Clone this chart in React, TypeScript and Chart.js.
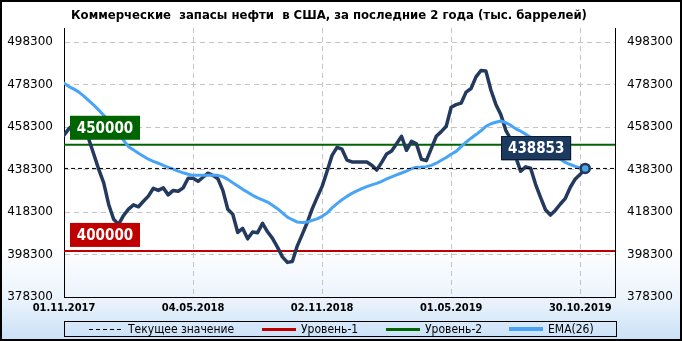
import React, { useEffect, useRef } from 'react';
import { Chart, registerables } from 'chart.js';

Chart.register(...registerables);

const TITLE = 'Коммерческие  запасы нефти  в США, за последние 2 года (тыс. баррелей)';
const xTickIndex = [0, 26, 52, 78, 104];
const xTickLabels = ['01.11.2017', '04.05.2018', '02.11.2018', '01.05.2019', '30.10.2019'];
const yTicks = [378300, 398300, 418300, 438300, 458300, 478300, 498300];

const stocks = [
  454500, 457600, 459700, 460100, 457300, 452600, 445500, 438400, 432100, 421900,
  414900, 412500, 416700, 419700, 421700, 420800, 423400, 425800, 429500, 428500,
  429700, 426400, 428500, 428100, 429700, 434200, 434200, 432800, 434700, 436600,
  435600, 434000, 428500, 419600, 417300, 408700, 410600, 405700, 408900, 408600,
  413000, 409000, 405900, 401800, 397200, 394600, 395000, 402400, 407800, 413400,
  419800, 425200, 430400, 437500, 445000, 448800, 447900, 442800, 441900, 441900,
  441900, 441900, 440400, 438100, 441700, 445700, 447100, 450500, 454000, 447400,
  451600, 450400, 443200, 442500, 448300, 454000, 456200, 458700, 467700, 468900,
  469600, 474800, 476500, 482000, 485000, 484700, 475800, 469000, 464200, 456800,
  452600, 444300, 437500, 439600, 439000, 431400, 425200, 419400, 416900, 419200,
  422100, 424800, 430000, 433900, 436100, 438853,
];

const ema26 = [
  479000, 477400, 476200, 474800, 472900, 470800, 468700, 466300, 463900, 461200,
  458400, 455200, 452100, 449100, 447600, 446000, 444600, 443200, 442200, 441300,
  440300, 439400, 438500, 437600, 436800, 436100, 435600, 435600, 435600, 435600,
  435600, 435600, 435000, 433700, 432100, 430600, 429000, 427600, 426200, 425000,
  424000, 423000, 421500, 419900, 417900, 415900, 414700, 413600, 413400, 413600,
  414400, 415100, 416300, 417900, 420300, 422300, 424100, 425700, 427100, 428300,
  429300, 430300, 431100, 431800, 432800, 433900, 434900, 435800, 436700, 437600,
  438700, 439400, 439500, 439700, 440300, 441300, 442700, 444000, 445500, 446900,
  449100, 451200, 453100, 454800, 456600, 458700, 459900, 460600, 461200, 460400,
  459200, 457500, 456400, 455000, 453500, 451900, 450200, 448100, 446000, 444600,
  443200, 441700, 440700, 439800, 439100, 438700,
];

const level1 = 400000;
const level2 = 450000;
const currentValue = 438853;
const legendLabels = ['Текущее значение', 'Уровень-1', 'Уровень-2', 'EMA(26)'];

const X_MAX = 111;
const Y_MIN = 378300;
const Y_MAX = 505000;

const COND = '"DejaVu Sans Condensed", "DejaVu Sans", sans-serif';
const NAVY = '#23395d';
const BLUE = '#47a4f7';
const RED = '#c00000';
const GREEN = '#006400';

const decorPlugin = {
  id: 'decor',
  beforeDraw(chart: any) {
    const { ctx, width, height } = chart;
    const g = ctx.createLinearGradient(0, 0, 0, height);
    g.addColorStop(0, '#ffffff');
    g.addColorStop(0.72, '#ffffff');
    g.addColorStop(0.88, '#eaf3fc');
    g.addColorStop(1, '#c9e0f7');
    ctx.save();
    ctx.fillStyle = g;
    ctx.fillRect(0, 0, width, height);
    ctx.restore();
  },
  afterDatasetsDraw(chart: any) {
    const { ctx, chartArea, scales } = chart;
    const ys = scales.y;
    const xs = scales.x;
    const drawBox = (x: number, y: number, w: number, h: number, fill: string, text: string, stroke?: string) => {
      ctx.save();
      ctx.fillStyle = fill;
      ctx.fillRect(x, y, w, h);
      if (stroke) {
        ctx.strokeStyle = stroke;
        ctx.lineWidth = 1;
        ctx.strokeRect(Math.round(x) + 0.5, Math.round(y) + 0.5, w - 1, h - 1);
      }
      ctx.fillStyle = '#ffffff';
      ctx.font = `bold 15px ${COND}`;
      ctx.textAlign = 'center';
      ctx.textBaseline = 'middle';
      ctx.fillText(text, x + w / 2, y + h / 2 + 1);
      ctx.restore();
    };
    const y2 = ys.getPixelForValue(level2);
    drawBox(chartArea.left + 6, y2 - 29, 70, 24, GREEN, String(level2));
    const y1 = ys.getPixelForValue(level1);
    drawBox(chartArea.left + 6, y1 - 28, 70, 24, RED, String(level1));
    const lx = xs.getPixelForValue(stocks.length - 1);
    const ly = ys.getPixelForValue(currentValue);
    drawBox(lx - 84, ly - 32, 70, 24, '#1c3a60', String(currentValue), '#0b1a2e');
  },
  afterDraw(chart: any) {
    const { ctx, chartArea, width, height } = chart;
    ctx.save();
    // title
    ctx.fillStyle = '#000';
    ctx.font = `bold 13px ${COND}`;
    ctx.textAlign = 'center';
    ctx.textBaseline = 'middle';
    ctx.fillText(TITLE, 329, 16);
    // legend box
    const top = 321;
    const lh = 15;
    ctx.strokeStyle = '#000';
    ctx.lineWidth = 1;
    ctx.strokeRect(chartArea.left + 0.5, top + 0.5, chartArea.right - chartArea.left + 1, lh);
    const items = [
      { color: '#000', dash: [4, 3], w: 1, x: 89 },
      { color: RED, dash: [], w: 3, x: 262 },
      { color: GREEN, dash: [], w: 3, x: 386 },
      { color: BLUE, dash: [], w: 4, x: 509 },
    ];
    const cy = top + 0.5 + lh / 2;
    items.forEach((it, i) => {
      ctx.beginPath();
      ctx.setLineDash(it.dash);
      ctx.strokeStyle = it.color;
      ctx.lineWidth = it.w;
      ctx.moveTo(it.x, Math.round(cy) + (it.w % 2 ? 0.5 : 0));
      ctx.lineTo(it.x + 34, Math.round(cy) + (it.w % 2 ? 0.5 : 0));
      ctx.stroke();
      ctx.setLineDash([]);
      ctx.fillStyle = '#000';
      ctx.font = `12px ${COND}`;
      ctx.textAlign = 'left';
      ctx.textBaseline = 'middle';
      ctx.fillText(legendLabels[i], it.x + 39, cy + 1);
    });
    // outer frame
    ctx.strokeStyle = '#000';
    ctx.lineWidth = 2;
    ctx.strokeRect(1, 1, width - 2, height - 2);
    ctx.restore();
  },
};

export default function App() {
  const ref = useRef<HTMLCanvasElement | null>(null);
  useEffect(() => {
    if (!ref.current) return;
    const line = (v: number) => [{ x: 0, y: v }, { x: X_MAX, y: v }];
    const chart = new Chart(ref.current, {
      type: 'line',
      data: {
        datasets: [
          {
            label: 'marker',
            data: [{ x: stocks.length - 1, y: currentValue }],
            borderColor: NAVY,
            backgroundColor: '#4aa8e8',
            pointRadius: 4.5,
            pointBorderWidth: 2.5,
            showLine: false,
            order: 1,
          },
          {
            label: legendLabels[0],
            data: line(currentValue),
            borderColor: '#000',
            borderWidth: 1,
            borderDash: [4, 3],
            pointRadius: 0,
            order: 2,
          },
          {
            label: legendLabels[3],
            data: ema26.map((v, i) => ({ x: i, y: v })),
            borderColor: BLUE,
            borderWidth: 3,
            pointRadius: 0,
            borderJoinStyle: 'round',
            borderCapStyle: 'round',
            order: 3,
          },
          {
            label: 'stocks',
            data: stocks.map((v, i) => ({ x: i, y: v })),
            borderColor: NAVY,
            borderWidth: 3.5,
            pointRadius: 0,
            borderJoinStyle: 'round',
            borderCapStyle: 'round',
            order: 4,
          },
          {
            label: legendLabels[2],
            data: line(level2),
            borderColor: GREEN,
            borderWidth: 2,
            pointRadius: 0,
            order: 5,
          },
          {
            label: legendLabels[1],
            data: line(level1),
            borderColor: RED,
            borderWidth: 2,
            pointRadius: 0,
            order: 6,
          },
        ] as any,
      },
      options: {
        responsive: false,
        animation: false,
        events: [],
        layout: { padding: { top: 28, left: 0, right: 0, bottom: 0 } },
        plugins: { legend: { display: false }, title: { display: false }, tooltip: { enabled: false } },
        scales: {
          x: {
            type: 'linear',
            min: 0,
            max: X_MAX,
            afterBuildTicks: (s: any) => { s.ticks = xTickIndex.map((v) => ({ value: v })); },
            afterFit: (s: any) => { s.height = 44; },
            ticks: {
              autoSkip: false,
              maxRotation: 0,
              padding: 5,
              color: '#000',
              font: { family: COND, size: 11, weight: 'bold' },
              callback: (v: any) => xTickLabels[xTickIndex.indexOf(Number(v))] ?? '',
            },
            grid: {
              drawTicks: false,
              color: (c: any) => (c.tick && c.tick.value === 0 ? 'rgba(0,0,0,0)' : '#c4c4c4'),
              lineWidth: 1,
            },
            border: { display: true, color: '#000', width: 1, dash: [5, 4] },
          },
          y: {
            type: 'linear',
            position: 'left',
            min: Y_MIN,
            max: Y_MAX,
            afterBuildTicks: (s: any) => { s.ticks = yTicks.map((v) => ({ value: v })); },
            afterFit: (s: any) => { s.width = 64; },
            ticks: {
              padding: 11,
              color: '#000',
              font: { family: '"DejaVu Sans", sans-serif', size: 12 },
              callback: (v: any) => String(v),
            },
            grid: {
              drawTicks: false,
              color: (c: any) => (c.tick && c.tick.value === Y_MIN ? 'rgba(0,0,0,0)' : '#c4c4c4'),
              lineWidth: 1,
            },
            border: { display: true, color: '#000', width: 1, dash: [5, 4] },
          },
          y2: {
            type: 'linear',
            position: 'right',
            min: Y_MIN,
            max: Y_MAX,
            afterBuildTicks: (s: any) => { s.ticks = yTicks.map((v) => ({ value: v })); },
            afterFit: (s: any) => { s.width = 67; },
            ticks: {
              padding: 12,
              color: '#000',
              font: { family: '"DejaVu Sans", sans-serif', size: 12 },
              callback: (v: any) => String(v),
            },
            grid: { display: false, drawTicks: false },
            border: { display: true, color: '#000', width: 1 },
          },
        },
      } as any,
      plugins: [decorPlugin],
    });
    return () => chart.destroy();
  }, []);
  return (
    <div style={{ position: 'absolute', left: 0, top: 0, width: 682, height: 341 }}>
      <canvas ref={ref} width={682} height={341} />
    </div>
  );
}
